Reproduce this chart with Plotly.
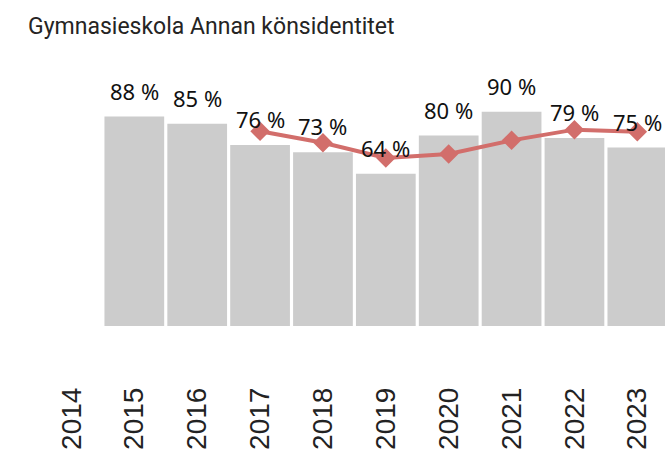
import plotly.graph_objects as go

years = ["2014", "2015", "2016", "2017", "2018", "2019", "2020", "2021", "2022", "2023"]
bar_values = [None, 88, 85, 76, 73, 64, 80, 90, 79, 75]
line_values = [None, None, None, 81.8, 77.0, 70.6, 72.3, 78.0, 82.5, 81.6]
title_text = "Gymnasieskola Annan könsidentitet"

fig = go.Figure()
fig.add_trace(go.Bar(
    x=years, y=bar_values, marker=dict(color="#CCCCCC", line=dict(width=0)),
    hoverinfo="skip", showlegend=False,
))
fig.add_trace(go.Scatter(
    x=years, y=line_values, mode="lines+markers",
    line=dict(color="#D26E6B", width=4),
    marker=dict(symbol="diamond", size=15, color="#D26E6B"),
    connectgaps=False, showlegend=False, hoverinfo="skip", cliponaxis=False,
))

for i, v in enumerate(bar_values):
    if v is None:
        continue
    fig.add_annotation(
        x=i, y=v, text=f"{v} %", showarrow=False, yanchor="bottom", yshift=9,
        font=dict(family="Noto Sans", size=22, color="#111111"),
    )

fig.update_layout(
    width=665, height=450,
    margin=dict(l=40, r=0, t=88, b=124, autoexpand=False),
    paper_bgcolor="white", plot_bgcolor="white",
    bargap=0.05,
    title=dict(text=title_text, x=28 / 665, xanchor="left", xref="container",
               y=1 - 26 / 450, yanchor="middle", yref="container",
               font=dict(family="Roboto", size=23, color="#252423")),
    xaxis=dict(type="category", categoryorder="array", categoryarray=years,
               range=[-0.5, 9.44], automargin=False,
               tickangle=-90, showgrid=False, showline=False, ticks="",
               tickfont=dict(family="Liberation Sans", size=28, color="#222222"),
               ticklabelstandoff=55),
    yaxis=dict(range=[0, 100], visible=False, showgrid=False, zeroline=False,
               automargin=False),
)

fig.write_html(
    "out.html",
    config={"displayModeBar": False},
    post_script="document.body.style.margin='0';document.body.style.overflow='hidden';",
)
